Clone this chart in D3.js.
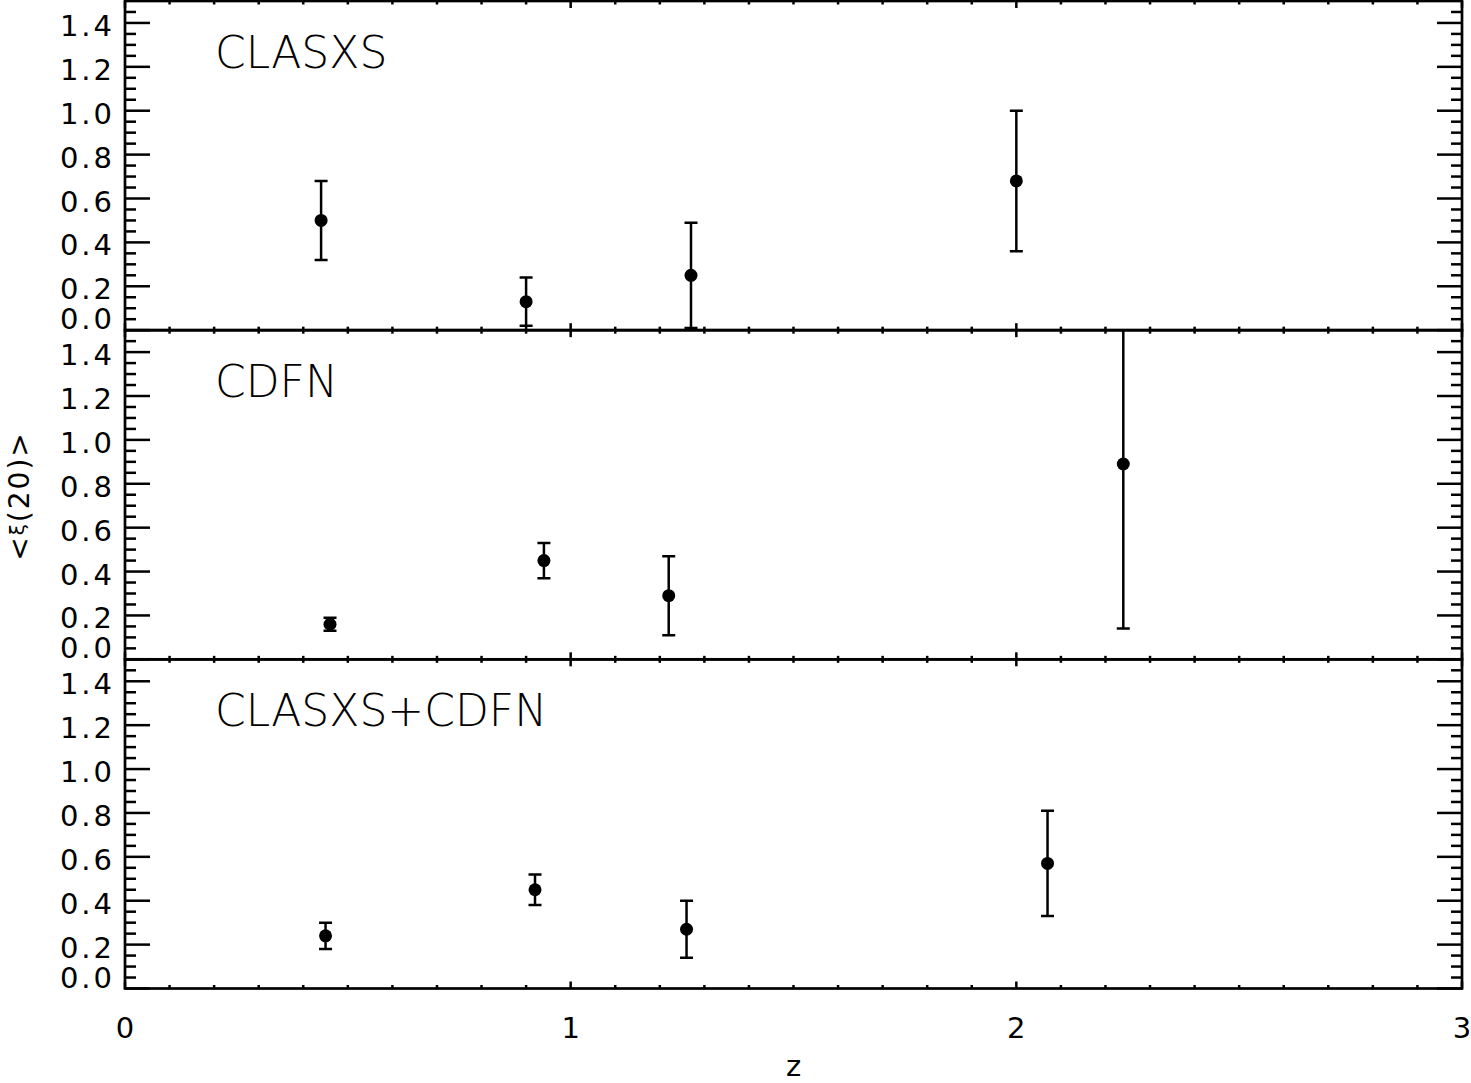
<!DOCTYPE html>
<html>
<head>
<meta charset="utf-8">
<script src="https://cdn.jsdelivr.net/npm/d3@7"></script>
<style>
  body { margin: 0; background: #fff; }
  svg { display: block; }
  text { font-family: "DejaVu Sans", sans-serif; fill: #000; }
</style>
</head>
<body>
<div id="chart"></div>
<script>
// panel names (top to bottom)
const panelNames = ["CLASXS", "CDFN", "CLASXS+CDFN"];

// redshift, <xi(20)> and symmetric 1-sigma error, one set per panel
const clasxsZ = [0.44, 0.90, 1.27, 2.00];
const clasxsXi = [0.50, 0.13, 0.25, 0.68];
const clasxsErr = [0.18, 0.11, 0.24, 0.32];

const cdfnZ = [0.46, 0.94, 1.22, 2.24];
const cdfnXi = [0.16, 0.45, 0.29, 0.89];
const cdfnErr = [0.03, 0.08, 0.18, 0.75];

const combZ = [0.45, 0.92, 1.26, 2.07];
const combXi = [0.24, 0.45, 0.27, 0.57];
const combErr = [0.06, 0.07, 0.13, 0.24];

// axis ticks
const xMajor = [0, 1, 2, 3];
const yMajor = [0.0, 0.2, 0.4, 0.6, 0.8, 1.0, 1.2, 1.4];
const xDomain = [0, 3];
const yDomain = [0, 1.5];

const toPoints = (zs, xis, errs) => zs.map((z, i) => ({ z, xi: xis[i], err: errs[i] }));
const panels = [
  toPoints(clasxsZ, clasxsXi, clasxsErr),
  toPoints(cdfnZ, cdfnXi, cdfnErr),
  toPoints(combZ, combXi, combErr)
];

const W = 1471, H = 1083;
const plotL = 125, plotR = 1462, plotT = 1, plotB = 988.5;
const panelH = (plotB - plotT) / 3;

const svg = d3.select("#chart").append("svg")
  .attr("width", W)
  .attr("height", H);

svg.append("rect").attr("width", W).attr("height", H).attr("fill", "#fff");

const x = d3.scaleLinear().domain(xDomain).range([plotL, plotR]);

const xMinor = d3.range(0, 31).map(d => d / 10).filter(d => !xMajor.includes(d));
const yMinor = d3.range(0, 30).filter(d => d % 4 !== 0).map(d => d / 20);

panels.forEach((data, p) => {
  const pTop = plotT + p * panelH;
  const pBot = pTop + panelH;
  const y = d3.scaleLinear().domain(yDomain).range([pBot, pTop]);
  const g = svg.append("g");

  // clip so long error bars stop at the frame
  const clipId = "clip" + p;
  svg.append("clipPath").attr("id", clipId)
    .append("rect").attr("x", plotL).attr("y", pTop).attr("width", plotR - plotL).attr("height", panelH);

  // x ticks: bottom (up) and top (down)
  const xt = xMinor.map(v => ({ v, len: 3.5 })).concat(xMajor.map(v => ({ v, len: 7 })));
  g.selectAll(".xtb").data(xt).enter().append("line")
    .attr("x1", d => x(d.v)).attr("x2", d => x(d.v))
    .attr("y1", pBot).attr("y2", d => pBot - d.len)
    .attr("stroke", "#000").attr("stroke-width", 2.5);
  g.selectAll(".xtt").data(xt).enter().append("line")
    .attr("x1", d => x(d.v)).attr("x2", d => x(d.v))
    .attr("y1", pTop).attr("y2", d => pTop + d.len)
    .attr("stroke", "#000").attr("stroke-width", 2.5);

  // y ticks: left and right, inward
  const yt = yMinor.map(v => ({ v, len: 11 })).concat(yMajor.map(v => ({ v, len: 25 })));
  g.selectAll(".ytl").data(yt).enter().append("line")
    .attr("x1", plotL).attr("x2", d => plotL + d.len)
    .attr("y1", d => y(d.v)).attr("y2", d => y(d.v))
    .attr("stroke", "#000").attr("stroke-width", 2.5);
  g.selectAll(".ytr").data(yt).enter().append("line")
    .attr("x1", plotR).attr("x2", d => plotR - d.len)
    .attr("y1", d => y(d.v)).attr("y2", d => y(d.v))
    .attr("stroke", "#000").attr("stroke-width", 2.5);

  // y tick labels (0.0 is nudged up to sit inside the panel)
  g.selectAll(".ylab").data(yMajor).enter().append("text")
    .attr("x", 115)
    .attr("y", d => d === 0 ? pBot - 1 : y(d) + 13)
    .attr("text-anchor", "end")
    .style("font-size", "29px")
    .style("letter-spacing", "3px")
    .text(d => d.toFixed(1));

  // frame
  g.append("rect")
    .attr("x", plotL).attr("y", pTop)
    .attr("width", plotR - plotL).attr("height", panelH)
    .attr("fill", "none").attr("stroke", "#000").attr("stroke-width", 2.7);

  // panel title
  g.append("text")
    .attr("x", 215).attr("y", pTop + 67)
    .style("font-size", "44px")
    .style("font-weight", 200)
    .text(panelNames[p]);

  // error bars and points
  const marks = g.append("g").attr("clip-path", `url(#${clipId})`);
  const pts = marks.selectAll(".pt").data(data).enter().append("g");
  pts.append("line")
    .attr("x1", d => x(d.z)).attr("x2", d => x(d.z))
    .attr("y1", d => y(d.xi - d.err)).attr("y2", d => y(d.xi + d.err))
    .attr("stroke", "#000").attr("stroke-width", 2.5);
  pts.append("line")
    .attr("x1", d => x(d.z) - 6.5).attr("x2", d => x(d.z) + 6.5)
    .attr("y1", d => y(d.xi - d.err)).attr("y2", d => y(d.xi - d.err))
    .attr("stroke", "#000").attr("stroke-width", 2.5);
  pts.append("line")
    .attr("x1", d => x(d.z) - 6.5).attr("x2", d => x(d.z) + 6.5)
    .attr("y1", d => y(d.xi + d.err)).attr("y2", d => y(d.xi + d.err))
    .attr("stroke", "#000").attr("stroke-width", 2.5);
  pts.append("circle")
    .attr("cx", d => x(d.z)).attr("cy", d => y(d.xi))
    .attr("r", 6.5).attr("fill", "#000");
});

// x tick labels under the bottom panel
svg.selectAll(".xlab").data(xMajor).enter().append("text")
  .attr("x", d => x(d)).attr("y", 1038)
  .attr("text-anchor", "middle")
  .style("font-size", "29px")
  .text(d => d);

// axis titles
svg.append("text")
  .attr("x", (plotL + plotR) / 2).attr("y", 1076)
  .attr("text-anchor", "middle")
  .style("font-size", "29px")
  .text("z");

const ylab = svg.append("text")
  .attr("transform", "translate(29,496) rotate(-90)")
  .attr("text-anchor", "middle")
  .style("font-size", "28px")
  .style("letter-spacing", "2px");
ylab.append("tspan").text("<");
ylab.append("tspan").style("font-size", "20px").attr("dy", -5).text("ξ");
ylab.append("tspan").attr("dy", 5).text("(20)>");
</script>
</body>
</html>
